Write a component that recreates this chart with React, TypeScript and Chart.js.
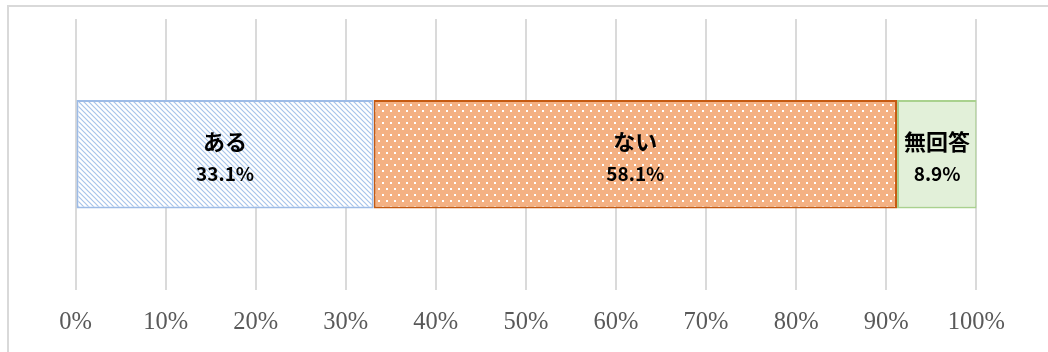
import React, { useEffect, useRef } from "react";
import { Chart, registerables } from "chart.js";

Chart.register(...registerables);

// Answer categories and their shares (%)
const categories: string[] = ["ある", "ない", "無回答"];
const shares: number[] = [33.1, 58.1, 8.9];
const tickValues: number[] = [0, 10, 20, 30, 40, 50, 60, 70, 80, 90, 100];

// Diagonal hatch on white (ある)
function hatchPattern(ctx: CanvasRenderingContext2D): CanvasPattern | string {
  const size = 5;
  const c = document.createElement("canvas");
  c.width = size;
  c.height = size;
  const g = c.getContext("2d");
  if (!g) return "#dbe8f7";
  g.fillStyle = "#ffffff";
  g.fillRect(0, 0, size, size);
  g.strokeStyle = "#a7c4ea";
  g.lineWidth = 1.2;
  g.beginPath();
  g.moveTo(-1, -1);
  g.lineTo(size + 1, size + 1);
  g.moveTo(-1, size - 1);
  g.lineTo(1, size + 1);
  g.moveTo(size - 1, -1);
  g.lineTo(size + 1, 1);
  g.stroke();
  return ctx.createPattern(c, "repeat") || "#dbe8f7";
}

// Staggered white dots on orange (ない)
function dotPattern(ctx: CanvasRenderingContext2D): CanvasPattern | string {
  const w = 8;
  const h = 12;
  const c = document.createElement("canvas");
  c.width = w;
  c.height = h;
  const g = c.getContext("2d");
  if (!g) return "#f4b183";
  g.fillStyle = "#f4b183";
  g.fillRect(0, 0, w, h);
  g.fillStyle = "#ffffff";
  g.fillRect(1, 1, 2, 2);
  g.fillRect(5, 7, 2, 2);
  return ctx.createPattern(c, "repeat") || "#f4b183";
}

const segmentLabels = {
  id: "segmentLabels",
  afterDatasetsDraw(chart: Chart) {
    const ctx = chart.ctx;
    ctx.save();
    ctx.fillStyle = "#000000";
    ctx.textAlign = "center";
    ctx.textBaseline = "middle";
    chart.data.datasets.forEach((ds, i) => {
      const meta = chart.getDatasetMeta(i);
      const el: any = meta.data[0];
      if (!el) return;
      const { x, base, y } = el.getProps(["x", "base", "y"], true);
      const cx = (x + base) / 2;
      ctx.font = "bold 22px 'Noto Sans CJK JP'";
      ctx.fillText(String(ds.label), cx, y - 13);
      ctx.font = "bold 19px 'Noto Sans CJK JP'";
      ctx.fillText(`${(ds.data[0] as number).toFixed(1)}%`, cx, y + 19);
    });
    ctx.restore();
  },
};

export default function App() {
  const canvasRef = useRef<HTMLCanvasElement>(null);

  useEffect(() => {
    const canvas = canvasRef.current;
    if (!canvas) return;
    const ctx = canvas.getContext("2d");
    if (!ctx) return;

    const fills = [hatchPattern(ctx), dotPattern(ctx), "#e2f0d9"];
    const borders = ["#9dbbe6", "#c55a11", "#a9d18e"];

    const chart = new Chart(canvas, {
      type: "bar",
      data: {
        labels: [""],
        datasets: categories.map((name, i) => ({
          label: name,
          data: [shares[i]],
          backgroundColor: fills[i] as any,
          borderColor: borders[i],
          borderWidth: 2,
          borderSkipped: false,
          barPercentage: 0.401,
          categoryPercentage: 1,
        })),
      },
      options: {
        indexAxis: "y",
        responsive: false,
        animation: false,
        layout: { padding: { left: 66.5, right: 71.7, top: 12, bottom: -3 } },
        plugins: {
          legend: { display: false },
          tooltip: { enabled: false },
        },
        scales: {
          x: {
            stacked: true,
            min: 0,
            max: 100,
            afterBuildTicks: (axis: any) => {
              axis.ticks = tickValues.map((v) => ({ value: v }));
            },
            grid: { color: "#dadada", lineWidth: 2, drawTicks: false },
            border: { display: false },
            ticks: {
              padding: 18,
              color: "#595959",
              font: { family: "'Liberation Serif'", size: 24.5 },
              callback: (v: any) => `${v}%`,
              maxRotation: 0,
            },
          },
          y: {
            stacked: true,
            display: false,
          },
        },
      },
      plugins: [segmentLabels],
    });

    return () => chart.destroy();
  }, []);

  return (
    <div
      style={{
        position: "absolute",
        top: 5,
        left: 7,
        width: 1039,
        height: 345,
        borderTop: "2px solid #d9d9d9",
        borderLeft: "2px solid #d9d9d9",
        overflow: "hidden",
      }}
    >
      <canvas ref={canvasRef} width={1039} height={345} style={{ display: "block" }} />
    </div>
  );
}
